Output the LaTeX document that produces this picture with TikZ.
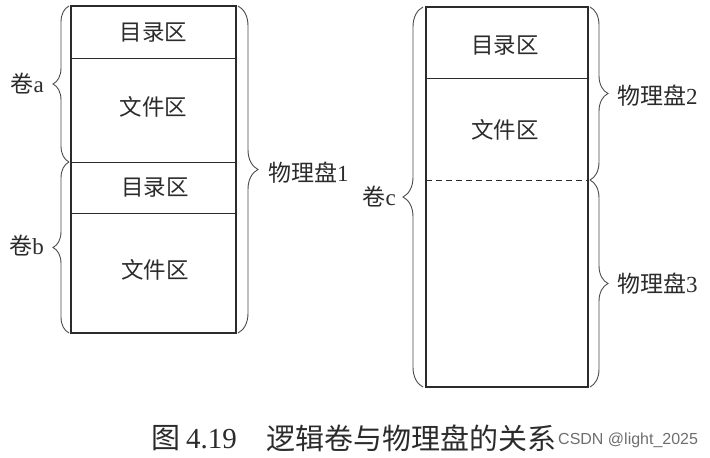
\documentclass[tikz,border=0pt]{standalone}
\usepackage{fontspec}
\setmainfont{Liberation Serif}
\newfontfamily\cjk{Noto Sans CJK SC}
\newfontfamily\wmfont{Liberation Sans}
\usetikzlibrary{decorations.pathreplacing}
\definecolor{ink}{HTML}{2B2B2B}
\definecolor{wm}{HTML}{6E6E6E}
\tikzset{
  box/.style={line width=1.6pt, draw=ink},
  divline/.style={line width=0.9pt, draw=ink},
  curly/.style={decorate, decoration={brace, amplitude=#1}, line width=0.9pt, draw=ink!85},
  cell/.style={font=\cjk\fontsize{22.5}{22.5}\selectfont, text=ink, inner sep=0pt},
  lab/.style={font=\fontsize{23}{23}\selectfont, text=ink, inner sep=0pt},
  caplab/.style={font=\fontsize{29}{29}\selectfont, text=ink, inner sep=0pt},
}
\begin{document}
\begin{tikzpicture}[x=1pt,y=-1pt]
\useasboundingbox (0,0) rectangle (710,458);
% left disk
\coordinate (L1) at (71,6);
\coordinate (L2) at (236,333);
\draw[box] (L1) rectangle (L2);
\coordinate (la1) at (71,58);  \coordinate (lb1) at (236,58);
\coordinate (la2) at (71,162); \coordinate (lb2) at (236,162);
\coordinate (la3) at (71,213); \coordinate (lb3) at (236,213);
\draw[divline] (la1) -- (lb1);
\draw[divline] (la2) -- (lb2);
\draw[divline] (la3) -- (lb3);
\node[cell] (d1) at (153.5,33) {目录区};
\node[cell] (f1) at (153.5,107) {文件区};
\node[cell] (d2) at (155,188) {目录区};
\node[cell] (f2) at (155,270) {文件区};
% braces left
\coordinate (ba0) at (69,162); \coordinate (ba1) at (69,6);
\coordinate (bb0) at (69,333); \coordinate (bb1) at (69,162);
\draw[curly=16] (ba0) -- (ba1);
\draw[curly=16] (bb0) -- (bb1);
\node[lab, anchor=east] (va) at (44,84) {{\cjk 卷}a};
\node[lab, anchor=east] (vb) at (44,246) {{\cjk 卷}b};
\coordinate (p1a) at (238,6); \coordinate (p1b) at (238,333);
\draw[curly=20] (p1a) -- (p1b);
\node[lab, anchor=west] (pd1) at (268,173) {{\cjk 物理盘}1};
% right disk
\coordinate (R1) at (426,7);
\coordinate (R2) at (588,387);
\draw[box] (R1) rectangle (R2);
\coordinate (ra1) at (426,78); \coordinate (rb1) at (588,78);
\coordinate (ra2) at (426,180); \coordinate (rb2) at (588,180);
\draw[divline] (ra1) -- (rb1);
\draw[divline, dashed, dash pattern=on 6pt off 4pt] (ra2) -- (rb2);
\node[cell] (d3) at (505,46) {目录区};
\node[cell] (f3) at (505,130) {文件区};
\coordinate (bc0) at (423,387); \coordinate (bc1) at (423,7);
\draw[curly=20] (bc0) -- (bc1);
\node[lab, anchor=east] (vc) at (396,197) {{\cjk 卷}c};
\coordinate (p2a) at (590,7); \coordinate (p2b) at (590,180);
\coordinate (p3a) at (590,180); \coordinate (p3b) at (590,387);
\draw[curly=18] (p2a) -- (p2b);
\draw[curly=18] (p3a) -- (p3b);
\node[lab, anchor=west] (pd2) at (617,96) {{\cjk 物理盘}2};
\node[lab, anchor=west] (pd3) at (617,284) {{\cjk 物理盘}3};
% caption
\node[caplab, anchor=west] (cap1) at (151,438) {{\cjk 图}\hspace{6pt}4.19};
\node[caplab, anchor=west] (cap2) at (266,438) {\cjk 逻辑卷与物理盘的关系};
\node[anchor=west, inner sep=0pt, text=wm, font=\wmfont\fontsize{16}{16}\selectfont] (wmk) at (558,440) {CSDN @light\_2025};
\end{tikzpicture}
\end{document}
